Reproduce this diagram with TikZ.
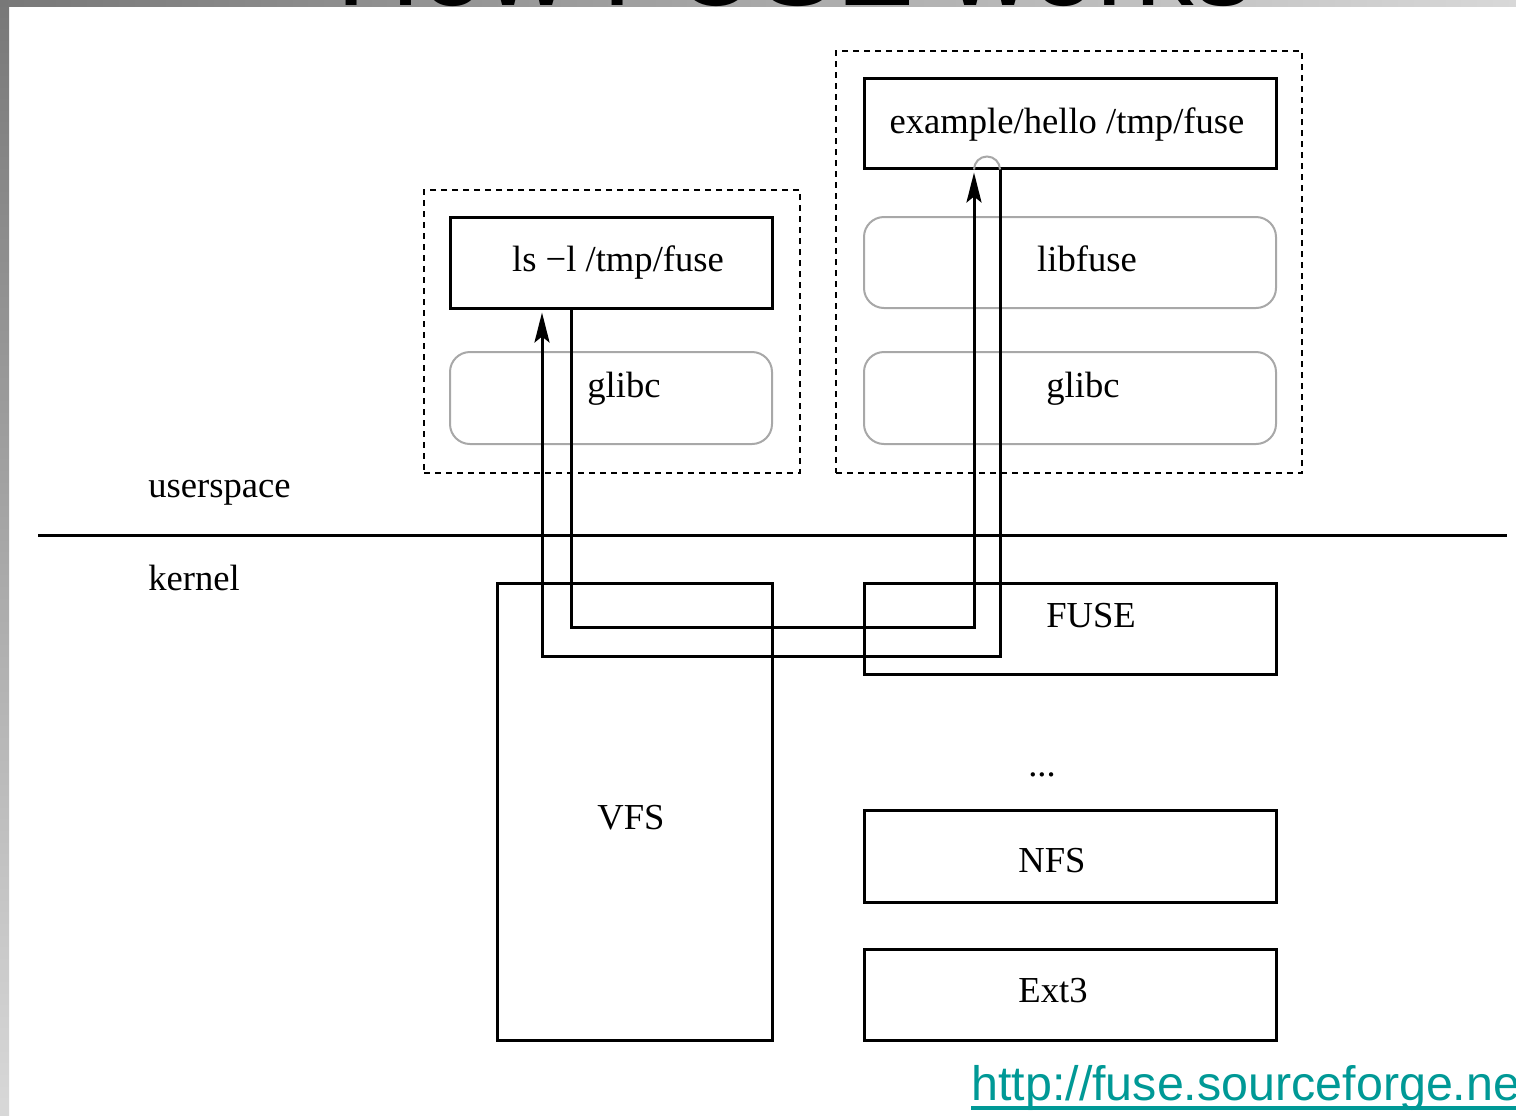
\documentclass[tikz,border=0pt]{standalone}
\usepackage{fontspec}
\setmainfont{Liberation Serif}
\newfontfamily\arialfont{Liberation Sans}
\usetikzlibrary{arrows.meta,calc}
\definecolor{linkteal}{RGB}{0,153,150}
\definecolor{barDark}{RGB}{120,120,120}
\definecolor{barLight}{RGB}{216,216,216}
\definecolor{softgray}{RGB}{168,168,168}

\begin{document}
\begin{tikzpicture}[x=0.5pt,y=-0.5pt,
  box/.style={draw=black,line width=1.5pt,rectangle,inner sep=0pt},
  libbox/.style={draw=softgray,line width=1pt,rectangle,rounded corners=10pt,inner sep=0pt},
  group/.style={draw=black,line width=1.3pt,dash pattern=on 3pt off 2.5pt,rectangle,inner sep=0pt},
  lbl/.style={anchor=base,inner sep=0pt,font=\fontsize{18.3}{20}\selectfont},
  conn/.style={line width=1.5pt},
  flow/.style={conn,-{Stealth[length=15pt,width=7.5pt,inset=3pt]},shorten >=1.5pt}]

% page frame
\useasboundingbox (0,0) rectangle (1516,1115);
\clip (0,0) rectangle (1516,1115);
\fill[white] (0,0) rectangle (1516,1115);

% slide decoration: shaded side and top bars
\shade[top color=barDark,bottom color=barLight] (0,0) rectangle (9,1115);
\shade[left color=barDark,right color=barLight] (0,0) rectangle (1516,6);
\begin{scope}
  \clip (0,0) rectangle (1516,6);
  \node[anchor=base west,inner sep=0pt,font=\arialfont\fontsize{58.5}{60}\selectfont] (title) at (336,5.5) {How FUSE works};
\end{scope}

% process groups
\node[group,minimum width=188pt,minimum height=141.5pt] (grpLs) at (612,331.5) {};
\node[group,minimum width=233pt,minimum height=211pt] (grpHello) at (1069,262) {};

% left process
\node[box,minimum width=161pt,minimum height=45.5pt] (ls) at (611,262.5) {};
\node[lbl] (lsText) at (618,271) {ls −l /tmp/fuse};
\node[libbox,minimum width=161pt,minimum height=46pt] (glibcL) at (611,398) {};
\node[lbl] (glibcLText) at (624,397) {glibc};

% right process
\node[box,minimum width=206pt,minimum height=45pt] (ex) at (1070,123) {};
\node[lbl] (exText) at (1067,133) {example/hello /tmp/fuse};
\node[libbox,minimum width=206pt,minimum height=45.5pt] (libfuse) at (1070,262.5) {};
\node[lbl] (libfuseText) at (1087,271) {libfuse};
\node[libbox,minimum width=206pt,minimum height=46pt] (glibcR) at (1070,398) {};
\node[lbl] (glibcRText) at (1083,397) {glibc};

% userspace / kernel boundary
\coordinate (sepL) at (38,535);
\coordinate (sepR) at (1507,535);
\draw[conn] (sepL) -- (sepR);
\node[lbl,anchor=base west] (us) at (148,497) {userspace};
\node[lbl,anchor=base west] (kn) at (148,590) {kernel};

% kernel components
\node[box,minimum width=137.5pt,minimum height=228.5pt] (vfs) at (634.5,811.5) {};
\node[lbl] (vfsText) at (631,829) {VFS};
\node[box,minimum width=206pt,minimum height=45.5pt] (fuse) at (1070,628.5) {};
\node[lbl] (fuseText) at (1091,627) {FUSE};
\node[lbl] (dots) at (1042,776) {...};
\node[box,minimum width=206pt,minimum height=46pt] (nfs) at (1070,856) {};
\node[lbl] (nfsText) at (1052,872) {NFS};
\node[box,minimum width=206pt,minimum height=45.5pt] (ext) at (1070,994.5) {};
\node[lbl] (extText) at (1053,1002) {Ext3};

% request and reply paths
\coordinate (downTurn) at (571,627);
\coordinate (upTurn) at (974,627);
\coordinate (retDown) at (1000,656);
\coordinate (retLeft) at (542,656);
\draw[flow] (downTurn |- ls.south) -- (downTurn) -- (upTurn) -- (upTurn |- ex.south);
\draw[flow] (retDown |- ex.south) -- (retDown) -- (retLeft) -- (retLeft |- ls.south);
\draw[softgray,line width=1pt] (upTurn |- ex.south) arc[start angle=180,end angle=0,radius=6.5pt];

% project link, running off the right edge of the page
\node[anchor=base west,inner sep=0pt,text=linkteal,font=\arialfont\fontsize{24.2}{26}\selectfont] (url) at (971,1100) {http://fuse.sourceforge.net};
\draw[linkteal,line width=2pt] ($(url.base west)+(0,8)$) -- ($(url.base east)+(0,8)$);
\end{tikzpicture}
\end{document}
